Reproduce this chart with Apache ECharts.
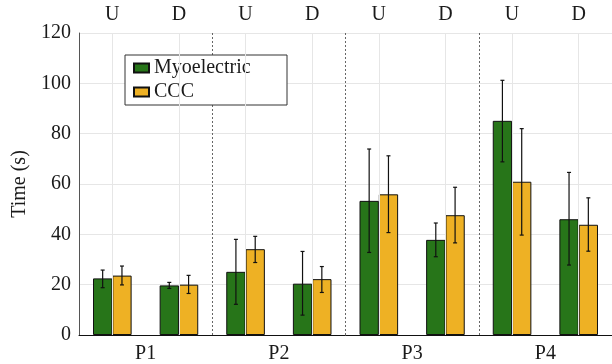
<!DOCTYPE html>
<html>
<head>
<meta charset="utf-8">
<script src="https://cdn.jsdelivr.net/npm/echarts@6/dist/echarts.min.js"></script>
<style>
  html, body { margin: 0; padding: 0; background: #fff; }
  #chart { width: 612px; height: 364px; }
</style>
</head>
<body>
<div id="chart"></div>
<script>
// Task direction (U/D) for each bar pair, and the participant groups below
const directions = ['U', 'D', 'U', 'D', 'U', 'D', 'U', 'D'];
const participants = ['P1', 'P2', 'P3', 'P4'];

// Mean completion times (s) and error-bar extents
const myoMean = [22.5, 19.7, 25.1, 20.4, 53.3, 37.8, 85.1, 46.0];
const myoLow  = [18.8, 18.5, 12.2, 7.9, 32.8, 31.1, 68.8, 27.8];
const myoHigh = [25.8, 20.9, 38.0, 33.2, 73.9, 44.5, 101.2, 64.6];

const cccMean = [23.6, 20.0, 34.1, 22.2, 55.9, 47.6, 60.9, 43.8];
const cccLow  = [19.9, 16.5, 28.8, 16.9, 40.7, 36.6, 39.7, 33.3];
const cccHigh = [27.4, 23.7, 39.2, 27.2, 71.2, 58.7, 82.0, 54.5];

const yTicks = { min: 0, max: 120, step: 20 };

const FONT = '"Liberation Serif", "Times New Roman", serif';
const TEXT = '#1a1a1a';
const BAR_W = 19.3;
const GREEN = '#277519';
const YELLOW = '#eeb124';

function errorSeries(low, high, side) {
  return {
    type: 'custom',
    xAxisIndex: 0,
    z: 5,
    silent: true,
    data: low.map((l, i) => [i, l, high[i]]),
    renderItem: function (params, api) {
      const i = api.value(0);
      const pLo = api.coord([i, api.value(1)]);
      const pHi = api.coord([i, api.value(2)]);
      const x = pLo[0] + side * BAR_W / 2;
      const cap = 2;
      const st = { stroke: '#111', lineWidth: 1.2 };
      return {
        type: 'group',
        children: [
          { type: 'line', shape: { x1: x, y1: pLo[1], x2: x, y2: pHi[1] }, style: st },
          { type: 'line', shape: { x1: x - cap, y1: pLo[1], x2: x + cap, y2: pLo[1] }, style: st },
          { type: 'line', shape: { x1: x - cap, y1: pHi[1], x2: x + cap, y2: pHi[1] }, style: st }
        ]
      };
    }
  };
}

const chart = echarts.init(document.getElementById('chart'), null, { renderer: 'canvas' });

chart.setOption({
  animation: false,
  backgroundColor: '#fff',
  textStyle: { fontFamily: FONT },
  grid: { left: 79, right: 0, top: 33, bottom: 27, containLabel: false },
  legend: {
    orient: 'vertical',
    left: 125,
    top: 55,
    padding: [3, 8, 3, 8],
    itemWidth: 15,
    itemHeight: 9,
    itemGap: 4,
    icon: 'rect',
    backgroundColor: '#fff',
    borderColor: '#333',
    borderWidth: 1,
    textStyle: { fontFamily: FONT, fontSize: 20, color: TEXT, width: 125, lineHeight: 20 },
    data: ['Myoelectric', 'CCC']
  },
  xAxis: [
    {
      type: 'category',
      position: 'top',
      data: directions,
      axisLine: { show: false },
      axisTick: { show: false },
      axisLabel: { fontFamily: FONT, fontSize: 20, color: TEXT, margin: 8 },
      splitLine: {
        show: true,
        interval: function (index) { return index === 2 || index === 4 || index === 6; },
        lineStyle: { color: '#666', width: 1, type: [2, 2] }
      }
    },
    {
      type: 'category',
      position: 'bottom',
      data: participants,
      axisLine: { show: true, lineStyle: { color: '#111', width: 1 } },
      axisTick: { show: false },
      axisLabel: { fontFamily: FONT, fontSize: 20, color: TEXT, margin: 9 },
      splitLine: { show: false }
    }
  ],
  yAxis: {
    type: 'value',
    min: yTicks.min,
    max: yTicks.max,
    interval: yTicks.step,
    name: 'Time (s)',
    nameLocation: 'middle',
    nameGap: 47,
    nameTextStyle: { fontFamily: FONT, fontSize: 20, color: TEXT },
    axisLine: { show: true, lineStyle: { color: '#555', width: 1 } },
    axisTick: { show: false },
    axisLabel: { fontFamily: FONT, fontSize: 20, color: TEXT, margin: 8 },
    splitLine: { show: true, lineStyle: { color: '#e6e6e6', width: 1 } }
  },
  series: [
    {
      // vertical grid lines through each U/D position
      type: 'line',
      xAxisIndex: 0,
      data: [],
      z: 1,
      silent: true,
      markLine: {
        silent: true,
        symbol: 'none',
        label: { show: false },
        lineStyle: { color: '#e6e6e6', width: 1, type: 'solid' },
        data: directions.map((d, i) => ({ xAxis: i }))
      }
    },
    {
      name: 'Myoelectric',
      type: 'bar',
      xAxisIndex: 0,
      z: 3,
      barWidth: BAR_W,
      barGap: '0%',
      data: myoMean,
      itemStyle: { color: GREEN, borderColor: '#111', borderWidth: 1 }
    },
    {
      name: 'CCC',
      type: 'bar',
      xAxisIndex: 0,
      z: 3,
      barWidth: BAR_W,
      barGap: '0%',
      data: cccMean,
      itemStyle: { color: YELLOW, borderColor: '#111', borderWidth: 1 }
    },
    errorSeries(myoLow, myoHigh, -1),
    errorSeries(cccLow, cccHigh, 1)
  ]
});
</script>
</body>
</html>
